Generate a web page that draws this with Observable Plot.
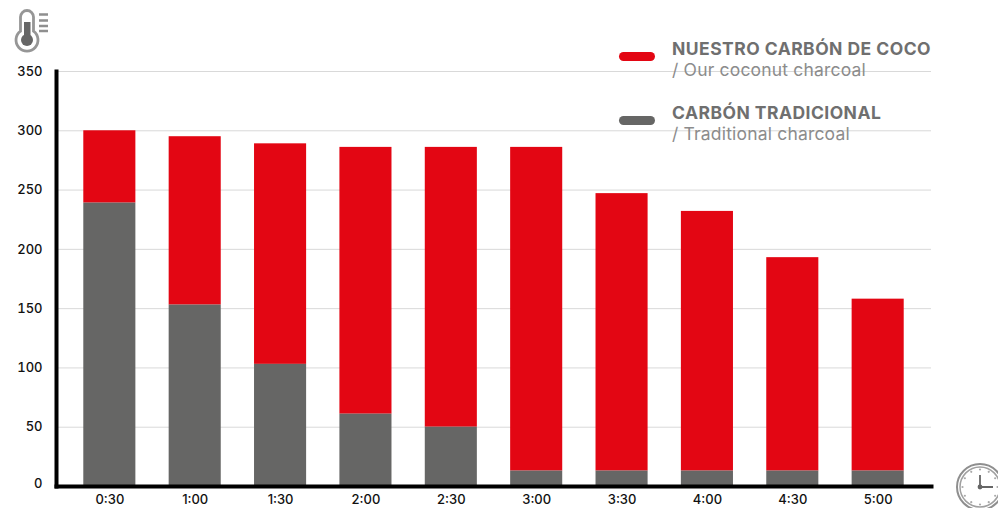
<!DOCTYPE html>
<html><head><meta charset="utf-8">
<script src="https://cdn.jsdelivr.net/npm/d3@7"></script>
<script src="https://cdn.jsdelivr.net/npm/@observablehq/plot@0.6"></script>
<style>
html,body{margin:0;padding:0;background:#fff;overflow:hidden}
#wrap{position:relative;width:998px;height:508px;overflow:hidden;font-family:Inter,"Open Sans",sans-serif}
.lg{position:absolute;left:672px;white-space:nowrap}
.lg b{display:block;font-size:17.5px;font-weight:700;line-height:20px;letter-spacing:.46px;color:#6f6f6f}
.lg span{display:block;font-size:17.5px;font-weight:400;line-height:20px;letter-spacing:.18px;color:#8c8c8c;margin-top:1px}
.sw{position:absolute;left:619px;width:36px;height:9px;border-radius:5px}
.ic{position:absolute;left:0;top:0}
</style></head><body><div id="wrap"></div>
<script>
const times = ["0:30","1:00","1:30","2:00","2:30","3:00","3:30","4:00","4:30","5:00"];
const coconut = [300,295,289,286,286,286,247,232,193,158];
const traditional = [239,153,103,61,50,13,13,13,13,13];
const yTicks = [0,50,100,150,200,250,300,350];
const seriesNames = ["NUESTRO CARBÓN DE COCO","CARBÓN TRADICIONAL"];
const seriesSubs = ["/ Our coconut charcoal","/ Traditional charcoal"];
const colors = ["#e30613","#666665"];
const axisStyle = {tickSize: 0, label: null, fontSize: 13, fontWeight: 500, fill: "#111"};

const chart = Plot.plot({
  width: 998, height: 508,
  marginTop: 71, marginBottom: 22, marginLeft: 56, marginRight: 67,
  style: {fontFamily: "Inter, 'Open Sans', sans-serif", background: "#fff"},
  x: {domain: times, range: [50, 937], padding: 0.39, round: false, label: null},
  y: {domain: [0, 350], range: [486, 71], label: null},
  marks: [
    Plot.ruleY(yTicks, {stroke: "#d9d9d9", strokeWidth: 1}),
    Plot.barY(times, {x: d => d, y1: (d, i) => traditional[i], y2: (d, i) => coconut[i], fill: colors[0]}),
    Plot.barY(times, {x: d => d, y: (d, i) => traditional[i], fill: colors[1]}),
    Plot.frame({anchor: "left", stroke: "#000", strokeWidth: 4}),
    Plot.frame({anchor: "bottom", stroke: "#000", strokeWidth: 4}),
    Plot.axisY(yTicks.filter(t => t > 0), {...axisStyle, tickPadding: 14}),
    Plot.axisY([0], {...axisStyle, tickPadding: 14, dy: -3}),
    Plot.axisX({...axisStyle, tickPadding: 8})
  ]
});
const wrap = document.getElementById("wrap");
wrap.appendChild(chart);
chart.style.position = "absolute"; chart.style.left = "0"; chart.style.top = "0";

[[52, 39], [116, 103]].forEach(([swTop, txtTop], i) => {
  const s = document.createElement("div");
  s.className = "sw"; s.style.top = swTop + "px"; s.style.background = colors[i];
  wrap.appendChild(s);
  const l = document.createElement("div");
  l.className = "lg"; l.style.top = txtTop + "px";
  const b = document.createElement("b"); b.textContent = seriesNames[i];
  const p = document.createElement("span"); p.textContent = seriesSubs[i];
  l.append(b, p); wrap.appendChild(l);
});

const thermo = `<svg class="ic" width="60" height="60" viewBox="0 0 60 60">
<path d="M20.5 17a6.5 6.5 0 0 1 13 0v14.2a11 11 0 1 1-13 0z" fill="#fff" stroke="#969696" stroke-width="2.8"/>
<rect x="24" y="22" width="6.5" height="18" fill="#666"/><circle cx="27" cy="40" r="6" fill="#666"/>
<path d="M39 14.5h9M39 20.5h9M39 26h9M39 31h9" stroke="#8f8f8f" stroke-width="2.6"/></svg>`;
const ticks = d3.range(12).map(i => {
  const a = i * Math.PI / 6;
  return `<circle cx="${980 + 17.5 * Math.sin(a)}" cy="${487 - 17.5 * Math.cos(a)}" r="1.1" fill="#aaa"/>`;
}).join("");
const clock = `<svg class="ic" width="998" height="508" viewBox="0 0 998 508" style="pointer-events:none">
<circle cx="980" cy="487" r="23" fill="#fff" stroke="#8f8f8f" stroke-width="2"/>
<circle cx="980" cy="487" r="20" fill="#fff" stroke="#a0a0a0" stroke-width="1.5"/>${ticks}
<path d="M980 475V487H993" fill="none" stroke="#666" stroke-width="1.8"/><circle cx="980" cy="487" r="2.4" fill="#666"/></svg>`;
wrap.insertAdjacentHTML("beforeend", thermo + clock);
</script></body></html>
